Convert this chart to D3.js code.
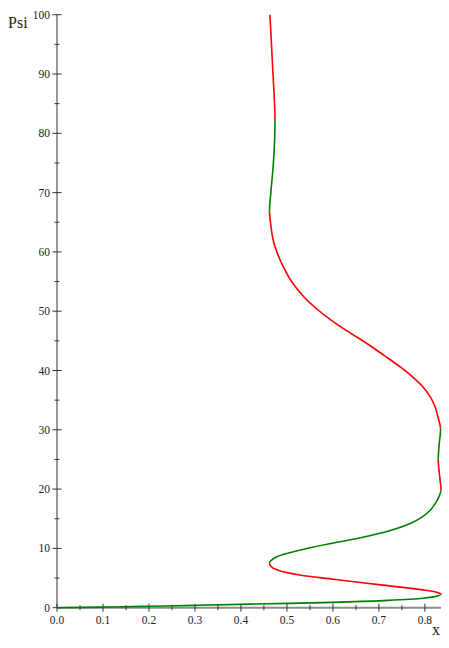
<!DOCTYPE html>
<html>
<head>
<meta charset="utf-8">
<script src="https://cdn.jsdelivr.net/npm/d3@7"></script>
<style>
  body { margin: 0; background: #fff; }
  svg text { font-family: "Liberation Serif", "Times New Roman", serif; fill: #222; }
</style>
</head>
<body>
<svg id="chart" width="449" height="648"></svg>
<script>
// the curve x(Psi), as [Psi, x] pairs ordered by Psi
var curvePts = [
  [0,0],[0.1,0.1],[0.24,0.2],[0.4,0.3],[0.6,0.42],[0.9,0.6],[1.2,0.71],[1.6,0.796],[1.95,0.826],[2.26,0.835],
  [2.6,0.825],[3.0,0.796],[3.8,0.709],[4.8,0.601],[5.5,0.528],[6.4,0.478],[7.0,0.465],[7.5,0.462],
  [8.0,0.466],[8.6,0.478],[9.7,0.528],[10.9,0.601],[11.7,0.655],[12.5,0.7],[13.3,0.737],[14.2,0.768],
  [15.2,0.792],[16.3,0.81],[17.5,0.822],[18.6,0.83],[19.8,0.835],
  [21.5,0.833],[24.9,0.829],[27.5,0.831],[30.2,0.834],
  [32,0.829],[33.9,0.822],[35.5,0.812],[37.3,0.795],[39,0.772],[40.4,0.75],[42.5,0.712],[44.6,0.673],
  [46.5,0.634],[48.5,0.596],[50.5,0.563],[52.4,0.537],[55,0.51],[57.5,0.492],[60,0.478],[62,0.47],
  [64.5,0.465],[66.8,0.462],
  [70,0.465],[75.5,0.471],[82.4,0.474],[91,0.469],[100,0.463]
];

// Psi ranges of stable (green) and unstable (red) parts
var bands = [
  { from: 0,    to: 2.26,  stable: true },
  { from: 2.26, to: 7.5,   stable: false },
  { from: 7.5,  to: 19.8,  stable: true },
  { from: 19.8, to: 24.9,  stable: false },
  { from: 24.9, to: 30.2,  stable: true },
  { from: 30.2, to: 66.8,  stable: false },
  { from: 66.8, to: 82.4,  stable: true },
  { from: 82.4, to: 100.5, stable: false }
];

var xTicks = [0, 0.1, 0.2, 0.3, 0.4, 0.5, 0.6, 0.7, 0.8];
var xMinor = [0.05, 0.15, 0.25, 0.35, 0.45, 0.55, 0.65, 0.75];
var yTicks = [0, 10, 20, 30, 40, 50, 60, 70, 80, 90, 100];
var yMinor = [5, 15, 25, 35, 45, 55, 65, 75, 85, 95];

var svg = d3.select('#chart');

var x = d3.scaleLinear().domain([0, 0.835]).range([57, 441]);
var y = d3.scaleLinear().domain([0, 100]).range([607.7, 14.7]);

// x axis
svg.append('line')
  .attr('x1', x(0)).attr('x2', x(0.835))
  .attr('y1', y(0)).attr('y2', y(0))
  .attr('stroke', '#8c8c8c').attr('stroke-width', 2);
svg.selectAll('.xmaj').data(xTicks).enter().append('line')
  .attr('x1', d => x(d)).attr('x2', d => x(d))
  .attr('y1', y(0) - 4).attr('y2', y(0) + 4)
  .attr('stroke', '#333').attr('stroke-width', 1);
svg.selectAll('.xmin').data(xMinor).enter().append('line')
  .attr('x1', d => x(d)).attr('x2', d => x(d))
  .attr('y1', y(0) - 2.5).attr('y2', y(0) + 2.5)
  .attr('stroke', '#333').attr('stroke-width', 1);
svg.selectAll('.xlab').data(xTicks).enter().append('text')
  .attr('x', d => x(d)).attr('y', 624)
  .attr('text-anchor', 'middle').attr('font-size', 11.5)
  .text(d => d.toFixed(1));

// y axis
svg.append('line')
  .attr('x1', x(0)).attr('x2', x(0))
  .attr('y1', y(0)).attr('y2', y(100))
  .attr('stroke', '#333').attr('stroke-width', 1);
svg.selectAll('.ymaj').data(yTicks).enter().append('line')
  .attr('x1', x(0) - 4.5).attr('x2', x(0) + 4.5)
  .attr('y1', d => y(d)).attr('y2', d => y(d))
  .attr('stroke', '#333').attr('stroke-width', 1);
svg.selectAll('.ymin').data(yMinor).enter().append('line')
  .attr('x1', x(0) - 2.5).attr('x2', x(0) + 2.5)
  .attr('y1', d => y(d)).attr('y2', d => y(d))
  .attr('stroke', '#333').attr('stroke-width', 1);
svg.selectAll('.ylab').data(yTicks).enter().append('text')
  .attr('x', 50).attr('y', d => y(d) + 4)
  .attr('text-anchor', 'end').attr('font-size', 11.5)
  .text(d => d);

svg.append('text').attr('x', 8).attr('y', 28).attr('font-size', 16).text('Psi');
svg.append('text').attr('x', 432).attr('y', 635).attr('font-size', 16).text('x');

// curve: one smooth path, coloured per Psi band through clip rects
var line = d3.line()
  .x(d => x(d[1]))
  .y(d => y(d[0]))
  .curve(d3.curveCatmullRom.alpha(0.5));

var defs = svg.append('defs');
bands.forEach(function (b, i) {
  defs.append('clipPath').attr('id', 'band' + i)
    .append('rect')
    .attr('x', 0).attr('width', 449)
    .attr('y', y(b.to)).attr('height', y(b.from) - y(b.to) + (i === 0 ? 3 : 0));
});

svg.selectAll('.branch').data(bands).enter().append('path')
  .attr('d', line(curvePts))
  .attr('clip-path', (d, i) => 'url(#band' + i + ')')
  .attr('fill', 'none')
  .attr('stroke', d => d.stable ? '#008000' : '#ff0000')
  .attr('stroke-width', 1.6);
</script>
</body>
</html>
